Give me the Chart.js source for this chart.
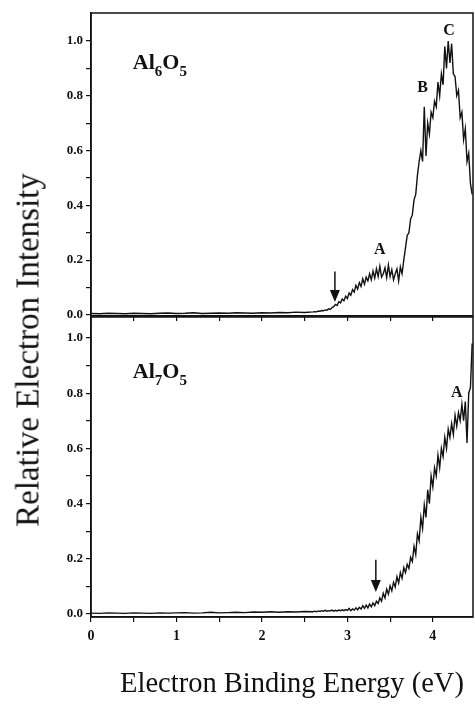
<!DOCTYPE html>
<html>
<head>
<meta charset="utf-8">
<script src="https://cdn.jsdelivr.net/npm/chart.js@4.4.1/dist/chart.umd.min.js"></script>
<style>
  body { margin: 0; background: #fff; }
  #wrap { position: relative; width: 475px; height: 705px; overflow: hidden; }
  canvas { position: absolute; left: 0; }
  #topChart { top: 0; }
  #bottomChart { top: 300px; }
  .title { position: absolute; font-family: "Liberation Serif", serif; color: #111; white-space: nowrap; }
  #yTitle { left: 28px; top: 350px; font-size: 33px; transform: translate(-50%, -50%) rotate(-90deg); }
  #xTitle { left: 292px; top: 683px; font-size: 28.5px; transform: translate(-50%, -50%); }
</style>
</head>
<body>
<div id="wrap">
  <canvas id="topChart" width="475" height="330"></canvas>
  <canvas id="bottomChart" width="475" height="360"></canvas>
  <div class="title" id="yTitle">Relative Electron Intensity</div>
  <div class="title" id="xTitle">Electron Binding Energy (eV)</div>
</div>
<script>
// binding energy grid (eV), shared by both spectra
const energy = [
  0, 0.1, 0.2, 0.3, 0.4, 0.5, 0.6, 0.7, 0.8, 0.9, 1.0, 1.1, 1.2, 1.3, 1.4, 1.5, 1.6, 1.7, 1.8, 1.9,
  2.0, 2.1, 2.2, 2.3, 2.4, 2.5, 2.6,
  2.62, 2.64, 2.66, 2.68, 2.70, 2.72, 2.74, 2.76, 2.78, 2.80,
  2.82, 2.84, 2.86, 2.88, 2.90, 2.92, 2.94, 2.96, 2.98, 3.00,
  3.02, 3.04, 3.06, 3.08, 3.10, 3.12, 3.14, 3.16, 3.18, 3.20,
  3.22, 3.24, 3.26, 3.28, 3.30, 3.32, 3.34, 3.36, 3.38, 3.40,
  3.42, 3.44, 3.46, 3.48, 3.50, 3.52, 3.54, 3.56, 3.58, 3.60,
  3.62, 3.64, 3.66, 3.68, 3.70, 3.72, 3.74, 3.76, 3.78, 3.80,
  3.82, 3.84, 3.86, 3.88, 3.90, 3.92, 3.94, 3.96, 3.98, 4.00,
  4.02, 4.04, 4.06, 4.08, 4.10, 4.12, 4.14, 4.16, 4.18, 4.20,
  4.22, 4.24, 4.26, 4.28, 4.30, 4.32, 4.34, 4.36, 4.38, 4.40,
  4.42, 4.44, 4.46
];

const intensityAl6O5 = [
  0.005, 0.004, 0.006, 0.005, 0.004, 0.006, 0.005, 0.004, 0.006, 0.007, 0.005, 0.006, 0.008, 0.005, 0.006, 0.007, 0.006, 0.008, 0.007, 0.006,
  0.008, 0.007, 0.009, 0.008, 0.010, 0.009, 0.011,
  0.012, 0.011, 0.014, 0.013, 0.016, 0.015, 0.018, 0.017, 0.022, 0.020,
  0.027, 0.030, 0.038, 0.034, 0.048, 0.044, 0.058, 0.052, 0.068, 0.060,
  0.080, 0.072, 0.092, 0.083, 0.108, 0.094, 0.118, 0.104, 0.132, 0.112,
  0.138, 0.124, 0.150, 0.128, 0.160, 0.134, 0.168, 0.140, 0.178, 0.138,
  0.150, 0.172, 0.136, 0.182, 0.140, 0.165, 0.128, 0.150, 0.168, 0.124,
  0.175, 0.150, 0.200, 0.245, 0.290, 0.300, 0.350, 0.365, 0.420, 0.440,
  0.510, 0.560, 0.600, 0.560, 0.760, 0.580, 0.700, 0.660, 0.740, 0.720,
  0.780, 0.760, 0.850, 0.800, 0.880, 0.840, 0.980, 0.900, 1.000, 0.920,
  0.990, 0.880, 0.870, 0.800, 0.820, 0.720, 0.740, 0.640, 0.680, 0.560,
  0.590, 0.480, 0.440
];

const intensityAl7O5 = [
  0.003, 0.002, 0.004, 0.003, 0.002, 0.004, 0.003, 0.002, 0.004, 0.003, 0.004, 0.005, 0.003, 0.004, 0.006, 0.004, 0.005, 0.006, 0.005, 0.007,
  0.006, 0.008, 0.006, 0.008, 0.007, 0.009, 0.008,
  0.010, 0.008, 0.011, 0.009, 0.012, 0.010, 0.013, 0.010, 0.012, 0.011,
  0.014, 0.010, 0.013, 0.011, 0.014, 0.012, 0.015, 0.012, 0.016, 0.013,
  0.020, 0.012, 0.018, 0.014, 0.022, 0.015, 0.024, 0.018, 0.030, 0.020,
  0.032, 0.022, 0.036, 0.026, 0.040, 0.030, 0.046, 0.038, 0.058, 0.046,
  0.075, 0.058, 0.090, 0.072, 0.102, 0.084, 0.115, 0.098, 0.135, 0.112,
  0.150, 0.130, 0.168, 0.150, 0.180, 0.165, 0.205, 0.190, 0.245, 0.215,
  0.290, 0.265, 0.350, 0.310, 0.395, 0.350, 0.450, 0.400, 0.500, 0.460,
  0.530, 0.500, 0.575, 0.530, 0.600, 0.570, 0.640, 0.600, 0.670, 0.640,
  0.690, 0.650, 0.720, 0.680, 0.730, 0.700, 0.760, 0.700, 0.770, 0.620,
  0.800, 0.820, 0.980
];

const xTicks = [0, 0.5, 1, 1.5, 2, 2.5, 3, 3.5, 4];
const yTicks = [0, 0.1, 0.2, 0.3, 0.4, 0.5, 0.6, 0.7, 0.8, 0.9, 1.0];

// peak labels and threshold arrows, in data units
const peaksAl6O5 = [{ text: 'A', x: 3.38, y: 0.236 }, { text: 'B', x: 3.88, y: 0.83 }, { text: 'C', x: 4.19, y: 1.036 }];
const peaksAl7O5 = [{ text: 'A', x: 4.28, y: 0.80 }];
const arrowAl6O5 = { x: 2.854, from: 0.158, to: 0.047 };
const arrowAl7O5 = { x: 3.333, from: 0.196, to: 0.08 };

const FONT = '"Liberation Serif", "Times New Roman", serif';

const panelDecor = {
    id: 'panelDecor',
    afterDatasetsDraw(chart, args, opts) {
        const { ctx, chartArea: a } = chart;
        const x = chart.scales.x, y = chart.scales.y;
        ctx.save();
        ctx.strokeStyle = '#111';
        ctx.lineWidth = 1.5;
        ctx.strokeRect(a.left, a.top, a.right - a.left, a.bottom - a.top);

        ctx.fillStyle = '#111';
        ctx.font = 'bold 16px ' + FONT;
        ctx.textAlign = 'center';
        ctx.textBaseline = 'middle';
        opts.peaks.forEach(p => ctx.fillText(p.text, x.getPixelForValue(p.x), y.getPixelForValue(p.y)));

        // arrow pointing down to the threshold
        const ax = x.getPixelForValue(opts.arrow.x);
        const y0 = y.getPixelForValue(opts.arrow.from);
        const y1 = y.getPixelForValue(opts.arrow.to);
        ctx.lineWidth = 1.5;
        ctx.beginPath();
        ctx.moveTo(ax, y0);
        ctx.lineTo(ax, y1 - 10);
        ctx.stroke();
        ctx.beginPath();
        ctx.moveTo(ax - 5, y1 - 12);
        ctx.lineTo(ax + 5, y1 - 12);
        ctx.lineTo(ax, y1);
        ctx.closePath();
        ctx.fill();

        // molecule formula with subscripts
        let fx = x.getPixelForValue(opts.formula.x);
        const fy = y.getPixelForValue(opts.formula.y);
        ctx.textAlign = 'left';
        ctx.textBaseline = 'alphabetic';
        opts.formula.parts.forEach(([txt, sub]) => {
            ctx.font = 'bold ' + (sub ? 15 : 22) + 'px ' + FONT;
            ctx.fillText(txt, fx, fy + (sub ? 7 : 0));
            fx += ctx.measureText(txt).width;
        });
        ctx.restore();
    }
};

function points(values) {
    return energy.map((e, i) => ({ x: e, y: values[i] }));
}

function makeChart(id, values, cfg) {
    return new Chart(document.getElementById(id), {
        type: 'line',
        data: {
            datasets: [{
                data: points(values),
                borderColor: '#111',
                borderWidth: 1.4,
                pointRadius: 0,
                tension: 0,
                fill: false,
            }],
        },
        options: {
            responsive: false,
            animation: false,
            layout: { padding: { top: cfg.padTop, right: 2, left: 0, bottom: 0 } },
            plugins: {
                legend: { display: false },
                tooltip: { enabled: false },
                panelDecor: cfg.decor,
            },
            scales: {
                x: {
                    type: 'linear',
                    min: 0,
                    max: 4.47,
                    afterBuildTicks: (scale) => { scale.ticks = xTicks.map(v => ({ value: v })); },
                    afterFit: (scale) => { scale.height = cfg.xHeight; },
                    border: { display: true, color: '#111', width: 1.5 },
                    grid: { drawOnChartArea: false, drawTicks: true, tickLength: 5, color: '#111', lineWidth: 1.2 },
                    ticks: {
                        display: cfg.xLabels,
                        autoSkip: false,
                        maxRotation: 0,
                        padding: 6,
                        color: '#111',
                        font: { family: FONT, size: 14, weight: 'bold' },
                        callback: (v) => (v % 1 === 0 ? String(v) : ''),
                    },
                },
                y: {
                    min: cfg.yMin,
                    max: cfg.yMax,
                    afterBuildTicks: (scale) => { scale.ticks = yTicks.map(v => ({ value: v })); },
                    afterFit: (scale) => { scale.width = 91; },
                    border: { display: true, color: '#111', width: 1.5 },
                    grid: { drawOnChartArea: false, drawTicks: true, tickLength: 5, color: '#111', lineWidth: 1.2 },
                    ticks: {
                        padding: 3,
                        color: '#111',
                        font: { family: FONT, size: 13, weight: 'bold' },
                        callback: (v) => (Math.round(v * 10) % 2 === 0 ? v.toFixed(1) : ''),
                    },
                },
            },
        },
        plugins: [panelDecor],
    });
}

makeChart('topChart', intensityAl6O5, {
    padTop: 13, xHeight: 14, xLabels: false, yMin: -0.004, yMax: 1.102,
    decor: {
        peaks: peaksAl6O5,
        arrow: arrowAl6O5,
        formula: { x: 0.49, y: 0.898, parts: [['Al', 0], ['6', 1], ['O', 0], ['5', 1]] },
    },
});

makeChart('bottomChart', intensityAl7O5, {
    padTop: 17, xHeight: 43, xLabels: true, yMin: -0.011, yMax: 1.076,
    decor: {
        peaks: peaksAl7O5,
        arrow: arrowAl7O5,
        formula: { x: 0.49, y: 0.855, parts: [['Al', 0], ['7', 1], ['O', 0], ['5', 1]] },
    },
});
</script>
</body>
</html>
